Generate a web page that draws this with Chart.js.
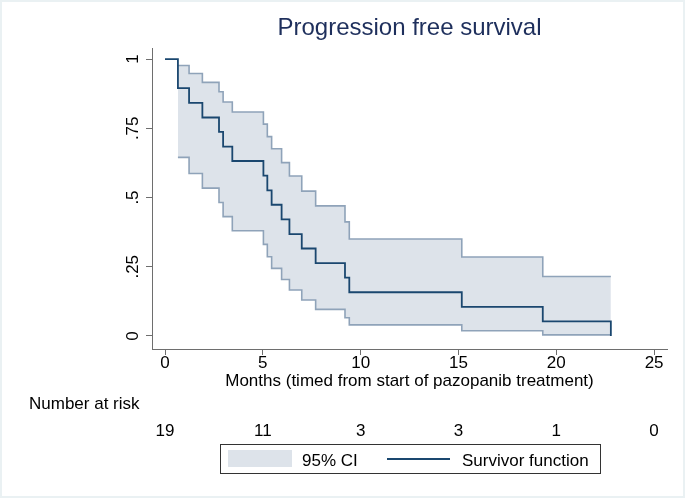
<!DOCTYPE html>
<html>
<head>
<meta charset="utf-8">
<script src="https://cdn.jsdelivr.net/npm/chart.js@4"></script>
<style>
  html, body { margin: 0; padding: 0; background: #fff; }
  canvas { display: block; }
</style>
</head>
<body>
<canvas id="km-canvas" width="685" height="498"></canvas>
<script>
// Kaplan-Meier estimate
var eventTimes = [0.66, 1.23, 1.91, 2.76, 2.97, 3.44, 5.03, 5.23, 5.45, 5.96, 6.36, 6.99, 7.70, 9.20, 9.42, 15.17, 19.31, 22.79];
var survival   = [0.895, 0.842, 0.789, 0.737, 0.684, 0.632, 0.579, 0.526, 0.474, 0.421, 0.368, 0.316, 0.263, 0.211, 0.158, 0.105, 0.053, 0];
// 95% CI after each event (last one held to the end time)
var ciUpper = [0.977, 0.948, 0.916, 0.882, 0.845, 0.809, 0.765, 0.720, 0.676, 0.626, 0.578, 0.523, 0.470, 0.412, 0.350, 0.285, 0.215, 0.215];
var ciLower = [0.645, 0.587, 0.534, 0.482, 0.431, 0.380, 0.331, 0.286, 0.244, 0.204, 0.166, 0.130, 0.096, 0.066, 0.040, 0.019, 0.004, 0.004];

var xTicks = [0, 5, 10, 15, 20, 25];
var yTicks = [0, 0.25, 0.5, 0.75, 1];
var yTickLabels = ["0", ".25", ".5", ".75", "1"];
var riskTimes = [0, 5, 10, 15, 20, 25];
var riskCounts = [19, 11, 3, 3, 1, 0];

var FONT = "'Liberation Sans', Arial, Helvetica, sans-serif";
var NAVY = "#1a476f";
var BAND = "#dde3ea";
var BAND_EDGE = "#8fa3b9";
var AXIS = "#6e6e6e";

function points(xs, ys) {
    var out = [];
    for (var i = 0; i < xs.length; i++) {
        out.push({x: xs[i], y: ys[i]});
    }
    return out;
}

var survPoints = [{x: 0, y: 1}].concat(points(eventTimes, survival));

var extras = {
    id: "extras",
    beforeDraw: function(chart) {
        var ctx = chart.ctx;
        ctx.save();
        ctx.fillStyle = "#fff";
        ctx.fillRect(0, 0, chart.width, chart.height);
        ctx.strokeStyle = "#eaf1f3";
        ctx.lineWidth = 2;
        ctx.strokeRect(1, 1, chart.width - 2, chart.height - 2);
        ctx.restore();
    },
    afterDraw: function(chart) {
        var ctx = chart.ctx;
        var xs = chart.scales.x;
        ctx.save();
        ctx.fillStyle = "#000";
        ctx.font = "17px " + FONT;
        ctx.textBaseline = "alphabetic";

        // number at risk table
        ctx.textAlign = "left";
        ctx.fillText("Number at risk", 29, 409);
        ctx.textAlign = "center";
        for (var i = 0; i < riskTimes.length; i++) {
            ctx.fillText(String(riskCounts[i]), xs.getPixelForValue(riskTimes[i]), 436);
        }

        // legend
        ctx.strokeStyle = "#333";
        ctx.lineWidth = 1;
        ctx.strokeRect(220.5, 444.5, 380, 29);
        ctx.fillStyle = BAND;
        ctx.fillRect(228, 450, 64, 17);
        ctx.fillStyle = "#000";
        ctx.textAlign = "left";
        ctx.fillText("95% CI", 302, 466);
        ctx.strokeStyle = NAVY;
        ctx.lineWidth = 1.8;
        ctx.beginPath();
        ctx.moveTo(387, 459);
        ctx.lineTo(450, 459);
        ctx.stroke();
        ctx.fillText("Survivor function", 462, 466);
        ctx.restore();
    }
};

var ctx = document.getElementById("km-canvas").getContext("2d");
var chart = new Chart(ctx, {
    type: "line",
    data: {
        datasets: [{
            label: "Survivor function",
            data: survPoints,
            stepped: true,
            borderColor: NAVY,
            borderWidth: 1.8,
            pointRadius: 0,
            fill: false
        }, {
            label: "Upper",
            data: points(eventTimes, ciUpper),
            stepped: true,
            borderColor: BAND_EDGE,
            borderWidth: 1.6,
            pointRadius: 0,
            fill: false
        }, {
            label: "95% CI",
            data: points(eventTimes, ciLower),
            stepped: true,
            borderColor: BAND_EDGE,
            borderWidth: 1.6,
            pointRadius: 0,
            backgroundColor: BAND,
            fill: "-1"
        }]
    },
    plugins: [extras],
    options: {
        responsive: false,
        animation: false,
        devicePixelRatio: 1,
        layout: {padding: {left: 0, right: 18, top: 0, bottom: 0}},
        plugins: {
            legend: {display: false},
            tooltip: {enabled: false},
            filler: {drawTime: "beforeDatasetsDraw"},
            title: {
                display: true,
                text: "Progression free survival",
                fullSize: false,
                color: "#1e2f5c",
                font: {family: FONT, size: 24, weight: "normal", lineHeight: 1.2},
                padding: {top: 14, bottom: 5.2}
            }
        },
        scales: {
            x: {
                type: "linear",
                min: -0.665,
                max: 25.66,
                afterBuildTicks: function(scale) {
                    scale.ticks = xTicks.map(function(v) { return {value: v}; });
                },
                afterFit: function(scale) { scale.height = 149; },
                grid: {drawOnChartArea: false, tickLength: 6, color: AXIS, lineWidth: 1},
                border: {color: AXIS, width: 1},
                ticks: {
                    color: "#000",
                    padding: 0,
                    maxRotation: 0,
                    font: {family: FONT, size: 17, lineHeight: 1}
                },
                title: {
                    display: true,
                    text: "Months (timed from start of pazopanib treatment)",
                    color: "#000",
                    font: {family: FONT, size: 17, lineHeight: 1.2},
                    padding: {top: 0, bottom: 106}
                }
            },
            y: {
                type: "linear",
                min: -0.047,
                max: 1.04,
                afterBuildTicks: function(scale) {
                    scale.ticks = yTicks.map(function(v) { return {value: v}; });
                },
                afterFit: function(scale) { scale.width = 152; },
                grid: {drawOnChartArea: false, tickLength: 6, color: AXIS, lineWidth: 1},
                border: {color: AXIS, width: 1},
                ticks: {
                    color: "#000",
                    padding: 1,
                    minRotation: 90,
                    maxRotation: 90,
                    crossAlign: "center",
                    font: {family: FONT, size: 17, lineHeight: 1},
                    callback: function(value) {
                        var k = yTicks.indexOf(value);
                        return k >= 0 ? yTickLabels[k] : "";
                    }
                }
            }
        }
    }
});
</script>
</body>
</html>
